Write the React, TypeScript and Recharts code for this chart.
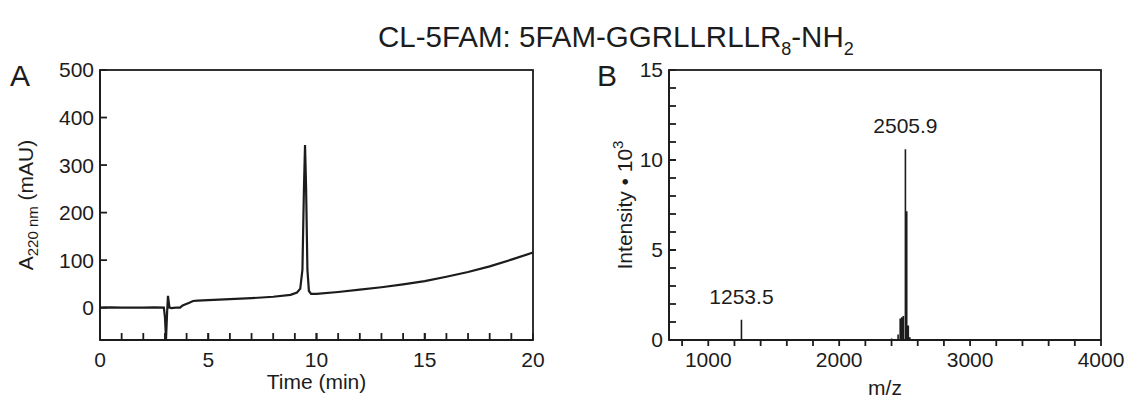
import { LineChart, Line, XAxis, YAxis, ReferenceDot } from 'recharts'

// panel A: HPLC trace (time in min, absorbance in mAU)
const hplcTime = [
  0, 0.5, 1, 1.5, 2, 2.5, 2.95, 3.0, 3.05, 3.1, 3.14, 3.17, 3.21, 3.3, 3.5, 3.7, 3.8, 3.95, 4.1, 4.3, 4.5,
  5, 6, 7, 8, 8.8, 9.1, 9.25, 9.35, 9.42, 9.47, 9.52, 9.58, 9.65, 9.75, 10, 11, 12, 13, 14, 15, 16, 17, 18, 19, 20,
]
const hplcAbs = [
  0, 0.5, 0, 0.3, 0, 0.5, 0, -20, -66, -10, 25, 14, 0, -1, 0, 0, 4, 7, 10, 14, 15,
  16, 18, 20, 23, 27, 32, 40, 80, 250, 342, 250, 80, 35, 29, 29, 33, 38, 43, 49, 56, 65, 75, 87, 101, 116,
]
const timeDomain = [0, 20]
const absDomain = [-68, 500]
const timeLabels = [0, 5, 10, 15, 20]
const timeTicks = [1, 2, 3, 4, 5, 6, 7, 8, 9, 10, 11, 12, 13, 14, 15, 16, 17, 18, 19]
const absTicks = [0, 100, 200, 300, 400, 500]

// panel B: mass spectrum (m/z, intensity x 10^3)
const peakMz = [1253.5, 2401, 2450, 2466, 2478, 2490, 2505.9, 2516, 2528, 2540]
const peakIntensity = [1.12, 0.08, 0.3, 1.2, 1.26, 1.33, 10.6, 7.15, 0.8, 0.15]
const mzDomain = [700, 4000]
const intensityDomain = [0, 15]
const mzTicks = [800, 1000, 1200, 1400, 1600, 1800, 2000, 2200, 2400, 2600, 2800, 3000, 3200, 3400, 3600, 3800, 4000]
const intensityLabels = [0, 5, 10, 15]
const intensityTicks = [1, 2, 3, 4, 5, 6, 7, 8, 9, 10, 11, 12, 13, 14]
const labelledPeaks = ['1253.5', '2505.9']

const FONT = '"Liberation Sans", Arial, Helvetica, sans-serif'
const INK = '#1c1c1c'

// chart boxes: margins + axis sizes fix the plot rectangle of each panel
const A_BOX = { width: 560, height: 398, margin: { top: 70, right: 27, left: 40, bottom: 8 } }
const B_BOX = { width: 570, height: 398, margin: { top: 70, right: 29, left: 49, bottom: 8 } }
const Y_AXIS_W = 60
const X_AXIS_H = 50

const hplcData = hplcTime.map((t, i) => ({ t, a: hplcAbs[i] }))

// each peak drawn as a stick: baseline -> top -> baseline
const msData = peakMz.flatMap((mz, i) => [
  { mz, v: 0 },
  { mz, v: peakIntensity[i] },
  { mz, v: 0 },
])

const axisLine = { stroke: INK, strokeWidth: 1.8 }
const tickLine = { stroke: INK, strokeWidth: 1.8 }
const tickStyle = { fontSize: 21, fill: INK, fontFamily: FONT }
const labelStyle = { fontSize: 21, fill: INK, fontFamily: FONT }

const HplcYLabel = ({ viewBox }: any) => {
  const cy = viewBox.y + viewBox.height / 2
  return (
    <text transform={`translate(33,${cy}) rotate(-90)`} textAnchor="middle" {...labelStyle}>
      A
      <tspan fontSize={15} dy={5}>220 nm</tspan>
      <tspan dy={-5}> (mAU)</tspan>
    </text>
  )
}

const MsYLabel = ({ viewBox }: any) => {
  const cy = viewBox.y + viewBox.height / 2
  return (
    <text transform={`translate(${632 - 560},${cy}) rotate(-90)`} textAnchor="middle" {...labelStyle}>
      Intensity • 10
      <tspan fontSize={15} dy={-9}>3</tspan>
    </text>
  )
}

// closed frame + inward ticks laid over the plot rectangle
function Frame({ box, xDomain, yDomain, xIn = [], yIn = [] }: any) {
  const left = box.margin.left + Y_AXIS_W
  const top = box.margin.top
  const w = box.width - left - box.margin.right
  const h = box.height - top - box.margin.bottom - X_AXIS_H
  const sx = (v: number) => left + ((v - xDomain[0]) / (xDomain[1] - xDomain[0])) * w
  const sy = (v: number) => top + h - ((v - yDomain[0]) / (yDomain[1] - yDomain[0])) * h
  return (
    <svg width={box.width} height={box.height} style={{ position: 'absolute', left: 0, top: 0, pointerEvents: 'none', zIndex: 2 }}>
      <rect x={left} y={top} width={w} height={h} fill="none" stroke={INK} strokeWidth={1.8} />
      {xIn.map((v: number) => (
        <line key={`x${v}`} x1={sx(v)} x2={sx(v)} y1={top + h} y2={top + h - 7} stroke={INK} strokeWidth={1.8} />
      ))}
      {yIn.map((v: number) => (
        <line key={`y${v}`} x1={left} x2={left + 7} y1={sy(v)} y2={sy(v)} stroke={INK} strokeWidth={1.8} />
      ))}
    </svg>
  )
}

function HplcPanel() {
  return (
    <div style={{ position: 'relative', width: A_BOX.width, height: A_BOX.height }}>
      <LineChart width={A_BOX.width} height={A_BOX.height} data={hplcData} margin={A_BOX.margin}>
        <XAxis
          dataKey="t"
          type="number"
          domain={timeDomain}
          ticks={timeLabels}
          interval={0}
          tick={tickStyle}
          tickSize={0}
          tickMargin={12}
          tickLine={false}
          axisLine={axisLine}
          height={X_AXIS_H}
          label={{ value: 'Time (min)', position: 'insideBottom', offset: 1, style: labelStyle }}
        />
        <YAxis
          type="number"
          domain={absDomain}
          ticks={absTicks}
          interval={0}
          tick={tickStyle}
          tickSize={0}
          tickMargin={6}
          tickLine={false}
          axisLine={axisLine}
          width={Y_AXIS_W}
          label={{ content: HplcYLabel }}
        />
        <Line
          type="linear"
          dataKey="a"
          stroke={INK}
          strokeWidth={2.2}
          dot={false}
          isAnimationActive={false}
        />
      </LineChart>
      <Frame box={A_BOX} xDomain={timeDomain} yDomain={absDomain} xIn={[...timeLabels, ...timeTicks]} yIn={absTicks} />
    </div>
  )
}

function MsPanel() {
  return (
    <div style={{ position: 'relative', width: B_BOX.width, height: B_BOX.height }}>
      <LineChart width={B_BOX.width} height={B_BOX.height} data={msData} margin={B_BOX.margin}>
        <XAxis
          dataKey="mz"
          type="number"
          domain={mzDomain}
          ticks={mzTicks}
          interval={0}
          tickFormatter={(v: number) => (v % 1000 === 0 ? String(v) : '')}
          tick={tickStyle}
          tickSize={6}
          tickMargin={6}
          tickLine={tickLine}
          axisLine={axisLine}
          height={X_AXIS_H}
          label={{ value: 'm/z', position: 'insideBottom', offset: -5, style: labelStyle }}
        />
        <YAxis
          type="number"
          domain={intensityDomain}
          ticks={intensityLabels}
          interval={0}
          tick={tickStyle}
          tickSize={0}
          tickMargin={6}
          tickLine={false}
          axisLine={axisLine}
          width={Y_AXIS_W}
          label={{ content: MsYLabel }}
        />
        <Line
          type="linear"
          dataKey="v"
          stroke={INK}
          strokeWidth={1.6}
          dot={false}
          isAnimationActive={false}
        />
        {labelledPeaks.map((name) => {
          const i = peakMz.indexOf(Number(name))
          return (
            <ReferenceDot
              key={name}
              x={peakMz[i]}
              y={peakIntensity[i]}
              r={0}
              stroke="none"
              label={{ value: name, position: 'top', offset: 16, style: labelStyle }}
            />
          )
        })}
      </LineChart>
      <Frame box={B_BOX} xDomain={mzDomain} yDomain={intensityDomain} yIn={[...intensityLabels, ...intensityTicks]} />
    </div>
  )
}

export default function App() {
  return (
    <div style={{ position: 'absolute', left: 0, top: 0, width: 1130, height: 398, background: '#fff', overflow: 'hidden', fontFamily: FONT, color: INK }}>
      <div style={{ position: 'absolute', left: 378, top: 22, fontSize: 29.5, lineHeight: '30px', whiteSpace: 'nowrap' }}>
        CL-5FAM: 5FAM-GGRLLRLLR
        <span style={{ fontSize: 18, position: 'relative', top: 8 }}>8</span>
        -NH
        <span style={{ fontSize: 18, position: 'relative', top: 8 }}>2</span>
      </div>
      <div style={{ position: 'absolute', left: 10, top: 61, fontSize: 30, lineHeight: '30px' }}>A</div>
      <div style={{ position: 'absolute', left: 597, top: 61, fontSize: 30, lineHeight: '30px' }}>B</div>
      <div style={{ position: 'absolute', left: 0, top: 0 }}>
        <HplcPanel />
      </div>
      <div style={{ position: 'absolute', left: 560, top: 0 }}>
        <MsPanel />
      </div>
    </div>
  )
}
